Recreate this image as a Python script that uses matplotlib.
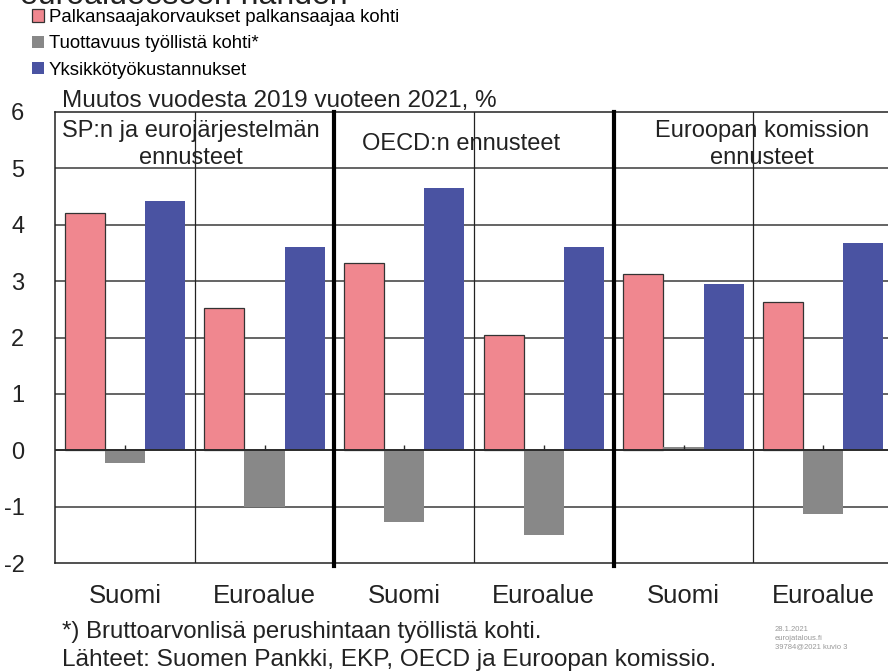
import matplotlib
matplotlib.use("Agg")
import matplotlib.pyplot as plt
import numpy as np

# data
categories = ["Suomi", "Euroalue", "Suomi", "Euroalue", "Suomi", "Euroalue"]
group_titles = ["SP:n ja eurojärjestelmän\nennusteet", "OECD:n ennusteet", "Euroopan komission\nennusteet"]
series_names = ["Palkansaajakorvaukset palkansaajaa kohti",
                "Tuottavuus työllistä kohti*",
                "Yksikkötyökustannukset"]
compensation = [4.20, 2.52, 3.32, 2.04, 3.13, 2.63]
productivity = [-0.22, -1.01, -1.28, -1.50, 0.05, -1.13]
unit_labour_costs = [4.42, 3.60, 4.65, 3.60, 2.95, 3.68]
yticks = [-2, -1, 0, 1, 2, 3, 4, 5, 6]

colors = ["#F0878F", "#888888", "#4A53A2"]
NARROW = ["Liberation Sans Narrow", "Liberation Sans", "DejaVu Sans"]
REGULAR = ["Liberation Sans", "DejaVu Sans"]
TEXT = "#222222"

fig = plt.figure(figsize=(8.88, 6.72), dpi=100)
ax = fig.add_axes([55 / 888, 1 - 563 / 672, 838 / 888, 451 / 672])

x = np.arange(len(categories)) + 0.5
w = 0.287
handles = []
for i, (vals, c) in enumerate(zip([compensation, productivity, unit_labour_costs], colors)):
    b = ax.bar(x + (i - 1) * w, vals, w, color=c,
               edgecolor="#333333" if i == 0 else c,
               linewidth=0.9 if i == 0 else 0, zorder=3)
    handles.append(b)

ax.set_xlim(0, 6)
ax.set_ylim(-2, 6)

# grid lines
for y in yticks[1:-1]:
    if y == 0:
        ax.axhline(y, color="#2a2a2a", lw=1.4, zorder=4)
    else:
        ax.axhline(y, color="#3a3a3a", lw=1.1, zorder=1)
ax.vlines(x, 0, 0.1, color="#2a2a2a", lw=1.0, zorder=4)

# separators between categories / groups
for xv in [1, 3, 5]:
    ax.axvline(xv, color="#222222", lw=0.9, zorder=2)
for xv in [2, 4]:
    ax.axvline(xv, ymin=-0.006, color="black", lw=3.0, zorder=5, clip_on=False)

for s in ["left", "top", "bottom"]:
    ax.spines[s].set_color("#222222")
    ax.spines[s].set_linewidth(1.1)
ax.spines["right"].set_visible(False)

ax.set_yticks(yticks)
ax.set_yticklabels([str(v) for v in yticks])
ax.set_xticks(x)
ax.set_xticklabels(categories)
ax.tick_params(length=0, colors=TEXT)
ax.tick_params(axis="y", pad=22)
ax.tick_params(axis="x", pad=15)
for lab in ax.get_yticklabels():
    lab.set_family(NARROW)
    lab.set_fontsize(17)
for lab in ax.get_xticklabels():
    lab.set_family(NARROW)
    lab.set_fontsize(18.5)

# group headings
for gx, t in zip([0.97, 2.91, 5.06], group_titles):
    ax.text(gx, 5.43, t, ha="center", va="center", fontsize=17,
            family=NARROW, color=TEXT, linespacing=1.3, zorder=6)

# titles and legend
fig.text(20 / 888, 1 - 4 / 672, "euroalueeseen nähden", fontsize=23,
         family=REGULAR, color=TEXT, va="baseline")
fig.legend(handles, series_names, loc="upper left",
           bbox_to_anchor=(32 / 888, 1 - 9 / 672), frameon=False,
           prop={"family": REGULAR, "size": 13.4}, handlelength=0.65,
           handleheight=0.65, handletextpad=0.25, labelspacing=0.5,
           borderpad=0, borderaxespad=0)
fig.text(62 / 888, 1 - 101 / 672, "Muutos vuodesta 2019 vuoteen 2021, %",
         fontsize=17.5, family=NARROW, color=TEXT, va="center")

# footnotes
fig.text(62 / 888, 1 - 632 / 672, "*) Bruttoarvonlisä perushintaan työllistä kohti.",
         fontsize=17.3, family=NARROW, color=TEXT, va="center")
fig.text(62 / 888, 1 - 660 / 672, "Lähteet: Suomen Pankki, EKP, OECD ja Euroopan komissio.",
         fontsize=17.6, family=NARROW, color=TEXT, va="center")
fig.text(775 / 888, 1 - 638 / 672, "28.1.2021\neurojatalous.fi\n39784@2021 kuvio 3",
         fontsize=5.5, family=REGULAR, color="#999999", va="center", linespacing=1.3)

fig.savefig("out.png", dpi=100)
